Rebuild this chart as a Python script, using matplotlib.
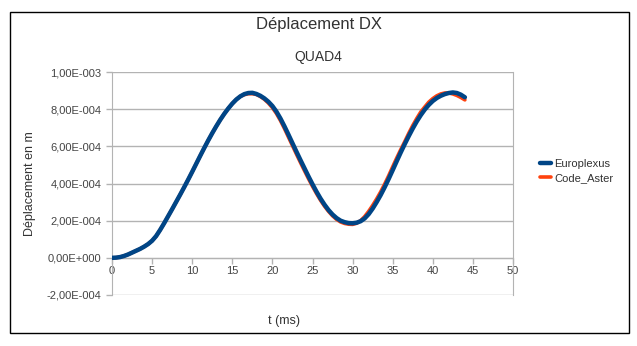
import matplotlib.pyplot as plt
from matplotlib.patches import Rectangle
from matplotlib.ticker import FuncFormatter, MultipleLocator

# time (ms), one reading every 0.5 ms
t = [i * 0.5 for i in range(89)]

# displacement DX in units of 1e-4 m
europlexus = [0.0, 0.01, 0.04, 0.1, 0.18, 0.28, 0.38, 0.48, 0.6, 0.74,
              0.92, 1.17, 1.5, 1.86, 2.24, 2.62, 3.01, 3.4, 3.8, 4.21,
              4.63, 5.06, 5.49, 5.91, 6.32, 6.71, 7.08, 7.43, 7.75, 8.04,
              8.3, 8.52, 8.69, 8.81, 8.87, 8.88, 8.82, 8.72, 8.58, 8.4,
              8.17, 7.87, 7.5, 7.08, 6.63, 6.17, 5.71, 5.26, 4.82, 4.38,
              3.96, 3.56, 3.19, 2.86, 2.57, 2.33, 2.14, 2.0, 1.92, 1.87,
              1.86, 1.89, 1.97, 2.12, 2.35, 2.65, 3.0, 3.38, 3.8, 4.25,
              4.72, 5.2, 5.67, 6.12, 6.55, 6.96, 7.34, 7.68, 7.98, 8.23,
              8.44, 8.6, 8.72, 8.81, 8.87, 8.9, 8.87, 8.78, 8.64]
code_aster = [0.0, 0.01, 0.04, 0.1, 0.18, 0.28, 0.38, 0.48, 0.6, 0.74,
              0.92, 1.17, 1.5, 1.86, 2.24, 2.62, 3.01, 3.4, 3.8, 4.21,
              4.63, 5.06, 5.49, 5.91, 6.32, 6.71, 7.08, 7.43, 7.75, 8.04,
              8.3, 8.52, 8.69, 8.78, 8.83, 8.83, 8.79, 8.68, 8.53, 8.33,
              8.08, 7.77, 7.39, 6.96, 6.5, 6.04, 5.58, 5.13, 4.69, 4.26,
              3.85, 3.46, 3.1, 2.78, 2.5, 2.26, 2.07, 1.93, 1.85, 1.81,
              1.8, 1.86, 2.0, 2.22, 2.5, 2.82, 3.17, 3.55, 3.97, 4.42,
              4.9, 5.37, 5.82, 6.25, 6.7, 7.12, 7.5, 7.85, 8.12, 8.38,
              8.57, 8.72, 8.82, 8.87, 8.87, 8.82, 8.74, 8.63, 8.5]

europlexus = [v * 1e-4 for v in europlexus]
code_aster = [v * 1e-4 for v in code_aster]

plt.rcParams['font.family'] = ['Liberation Sans', 'DejaVu Sans']

W, H = 637, 346
fig = plt.figure(figsize=(W / 100, H / 100), dpi=100)

# outer border
fig.patches.append(Rectangle((10 / W, 1 - 333 / H), 619 / W, 321 / H,
                             transform=fig.transFigure, fill=False,
                             edgecolor='black', linewidth=1.0))

ax = fig.add_axes([112 / W, 1 - 295 / H, 401 / W, 223 / H])

ax.plot(t, code_aster, color='#ff420e', linewidth=2.6, label='Code_Aster',
        zorder=3, solid_capstyle='round', solid_joinstyle='round')
ax.plot(t, europlexus, color='#004586', linewidth=3.2, label='Europlexus',
        zorder=4, solid_capstyle='round', solid_joinstyle='round')

ax.set_xlim(0, 50)
ax.set_ylim(-2e-4, 1e-3)
ax.xaxis.set_major_locator(MultipleLocator(5))
ax.yaxis.set_major_locator(MultipleLocator(2e-4))


def sci_fmt(v, pos):
    if abs(v) < 1e-12:
        return '0,00E+000'
    s = f"{v:.2E}"
    mant, exp = s.split('E')
    sign = exp[0]
    return f"{mant.replace('.', ',')}E{sign}{int(exp[1:]):03d}"


ax.yaxis.set_major_formatter(FuncFormatter(sci_fmt))

ax.grid(axis='y', color='#b3b3b3', linewidth=1.0)
ax.set_axisbelow(True)

ax.spines['top'].set_visible(False)
ax.spines['right'].set_color('#b3b3b3')
ax.spines['left'].set_color('#b3b3b3')
ax.spines['bottom'].set_position(('data', 0))
ax.spines['bottom'].set_color('#b3b3b3')

ax.tick_params(axis='both', colors='#b3b3b3', labelcolor='#444444',
               labelsize=8, length=4, width=1)
ax.tick_params(axis='x', pad=2)

ax.set_xlabel('t (ms)', fontsize=9, color='#333333')
ax.xaxis.set_label_coords((284 - 112) / 401, (295 - 315) / 223)
ax.set_ylabel('Déplacement en m', fontsize=9, color='#333333')
ax.yaxis.set_label_coords((36 - 112) / 401, 0.5)

fig.text(0.5, 1 - 25 / H, 'Déplacement DX', ha='center', va='center',
         fontsize=12, color='#333333')
fig.text(0.5, 1 - 57 / H, 'QUAD4', ha='center', va='center',
         fontsize=10, color='#333333')

handles, labels = ax.get_legend_handles_labels()
fig.legend(handles[::-1], labels[::-1], loc='center left',
           bbox_to_anchor=(530 / W, 1 - 171 / H), frameon=False,
           fontsize=8, handlelength=1.0, handletextpad=0.3,
           labelspacing=0.3, labelcolor='#333333')

fig.savefig('out.png', dpi=100)
